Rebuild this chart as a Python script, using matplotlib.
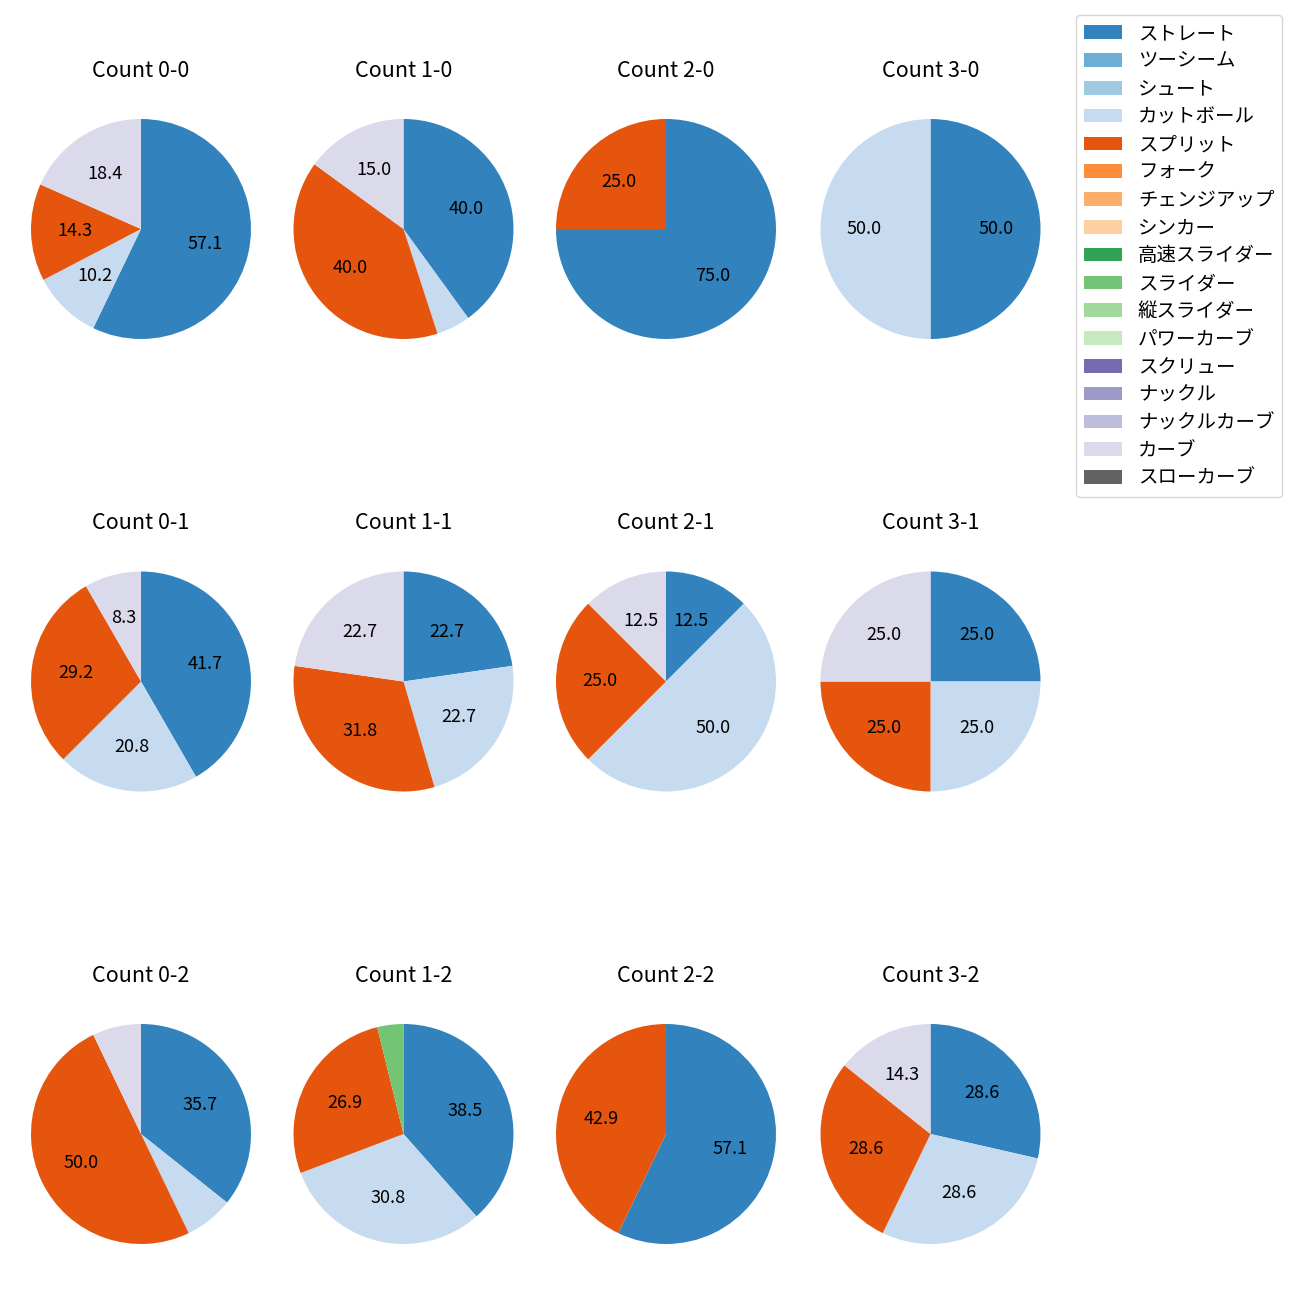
import matplotlib
matplotlib.use("Agg")
import matplotlib.pyplot as plt
from matplotlib.patches import Patch
import numpy as np

plt.rcParams['font.family'] = ['Noto Sans CJK JP', 'DejaVu Sans']

pitch_types = ['ストレート', 'ツーシーム', 'シュート', 'カットボール', 'スプリット', 'フォーク',
               'チェンジアップ', 'シンカー', '高速スライダー', 'スライダー', '縦スライダー',
               'パワーカーブ', 'スクリュー', 'ナックル', 'ナックルカーブ', 'カーブ', 'スローカーブ']

counts = ['0-0', '1-0', '2-0', '3-0',
          '0-1', '1-1', '2-1', '3-1',
          '0-2', '1-2', '2-2', '3-2']

count_0_0 = {'ストレート': 28, 'カットボール': 5, 'スプリット': 7, 'カーブ': 9}
count_1_0 = {'ストレート': 8, 'カットボール': 1, 'スプリット': 8, 'カーブ': 3}
count_2_0 = {'ストレート': 3, 'スプリット': 1}
count_3_0 = {'ストレート': 1, 'カットボール': 1}
count_0_1 = {'ストレート': 10, 'カットボール': 5, 'スプリット': 7, 'カーブ': 2}
count_1_1 = {'ストレート': 5, 'カットボール': 5, 'スプリット': 7, 'カーブ': 5}
count_2_1 = {'ストレート': 1, 'カットボール': 4, 'スプリット': 2, 'カーブ': 1}
count_3_1 = {'ストレート': 1, 'カットボール': 1, 'スプリット': 1, 'カーブ': 1}
count_0_2 = {'ストレート': 5, 'カットボール': 1, 'スプリット': 7, 'カーブ': 1}
count_1_2 = {'ストレート': 10, 'カットボール': 8, 'スプリット': 7, 'スライダー': 1}
count_2_2 = {'ストレート': 4, 'スプリット': 3}
count_3_2 = {'ストレート': 2, 'カットボール': 2, 'スプリット': 2, 'カーブ': 1}

data = [count_0_0, count_1_0, count_2_0, count_3_0,
        count_0_1, count_1_1, count_2_1, count_3_1,
        count_0_2, count_1_2, count_2_2, count_3_2]

cmap = plt.get_cmap('tab20c')
colors = {p: cmap(i) for i, p in enumerate(pitch_types)}

W = H = 1300
fig = plt.figure(figsize=(13, 13), dpi=100)

col_centers = [141, 403.5, 666, 930.5]
row_centers = [229, 681.5, 1134]
side = 275

def fmt(p):
    return f'{p:.1f}' if p >= 8 else ''

for i, (cnt, d) in enumerate(zip(counts, data)):
    r, c = divmod(i, 4)
    cx, cy = col_centers[c], row_centers[r]
    ax = fig.add_axes([(cx - side / 2) / W, 1 - (cy + side / 2) / H, side / W, side / H])
    labels = [p for p in pitch_types if p in d]
    vals = [d[p] for p in labels]
    ax.pie(vals, colors=[colors[p] for p in labels], startangle=90, counterclock=False,
           autopct=fmt, textprops={'fontsize': 13})
    ax.set_title(f'Count {cnt}', fontsize=15.5, pad=10.5)

handles = [Patch(facecolor=colors[p], label=p) for p in pitch_types]
fig.legend(handles=handles, loc='upper right', bbox_to_anchor=(1292 / W, 1 - 5.5 / H),
           fontsize=14, labelspacing=0.35)

fig.savefig('out.png', dpi=100)
